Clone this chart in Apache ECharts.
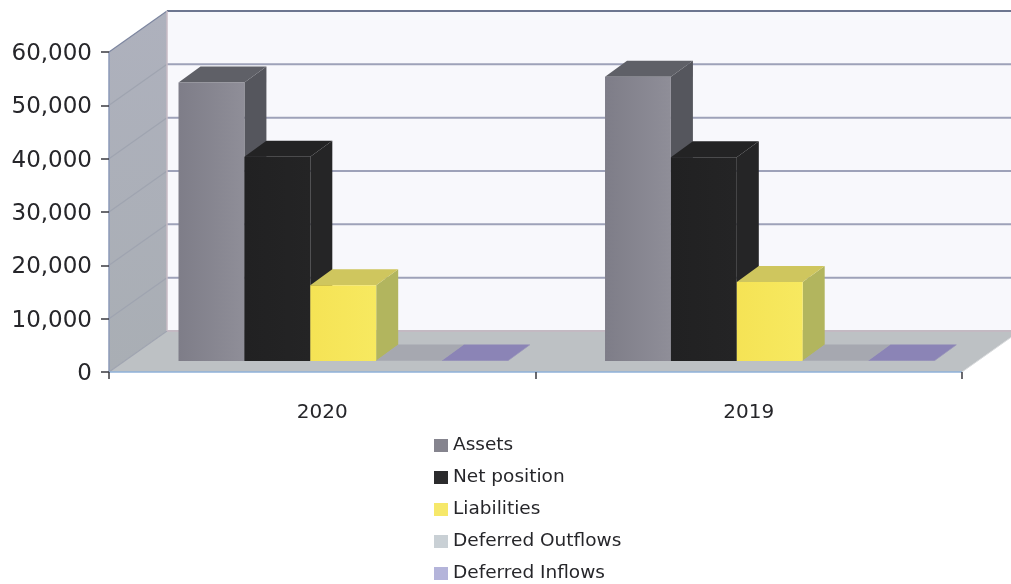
<!DOCTYPE html>
<html><head><meta charset="utf-8">
<style>html,body{margin:0;padding:0;background:#fff}#c{width:1011px;height:584px}</style>
<script src="https://cdn.jsdelivr.net/npm/echarts@6/dist/echarts.min.js"></script>
</head><body><div id="c"></div>
<script>
const categories = ['2020', '2019'];
const yTicks = [0, 10000, 20000, 30000, 40000, 50000, 60000];
const assets = [52200, 53300];
const netPosition = [38300, 38200];
const liabilities = [14200, 14800];
const deferredOutflows = [100, 100];
const deferredInflows = [100, 100];

const seriesNames = ['Assets', 'Net position', 'Liabilities', 'Deferred Outflows', 'Deferred Inflows'];
const seriesValues = [assets, netPosition, liabilities, deferredOutflows, deferredInflows];
const legendColors = ['#85848e', '#2b2b2d', '#f6e86a', '#c9d0d5', '#b4b4da'];
const faceColors = [
  {front: ['#7e7d88', '#8f8e98'], top: '#5f6067', side: '#55565d'},
  {front: ['#212122', '#242425'], top: '#232324', side: '#252526'},
  {front: ['#f5e355', '#f7e960'], top: '#cfc65e', side: '#b2b55e'},
  {front: ['#a6a8b0', '#a6a8b0'], top: '#a6a8b0', side: '#a6a8b0'},
  {front: ['#8b84b6', '#8b84b6'], top: '#8b84b6', side: '#8b84b6'}
];
const WALL_DX = 58, WALL_DY = -41;
const BAR_DX = 22, BAR_DY = -16, BAR_LIFT = 11, BAR_START = 0.163, BAR_FRAC = 0.1545;

function poly(points, fill, z2) {
  return {type: 'polygon', shape: {points}, style: {fill, stroke: null}, z2: z2 || 0, silent: true};
}
function seg(x1, y1, x2, y2, stroke, w, z2) {
  return {type: 'line', shape: {x1, y1, x2, y2}, style: {stroke, lineWidth: w}, z2: z2 || 1, silent: true};
}
function renderScene(params, api) {
  const g = params.coordSys;
  const L = g.x, R = g.x + g.width, T = g.y, B = g.y + g.height;
  const ch = [];
  ch.push(poly([[L + WALL_DX, T + WALL_DY], [R + WALL_DX, T + WALL_DY], [R + WALL_DX, B + WALL_DY], [L + WALL_DX, B + WALL_DY]], '#f8f8fc'));
  ch.push(poly([[L, T], [L + WALL_DX, T + WALL_DY], [L + WALL_DX, B + WALL_DY], [L, B]],
    new echarts.graphic.LinearGradient(0, 0, 0, 1, [{offset: 0, color: '#aeb1bd'}, {offset: 1, color: '#a9aeb4'}])));
  ch.push(poly([[L, B], [L + WALL_DX, B + WALL_DY], [R + WALL_DX, B + WALL_DY], [R, B]], '#bdc1c4'));
  yTicks.forEach(function (t) {
    const y = api.coord([0, t])[1];
    if (t > 0) {
      ch.push(seg(L + WALL_DX, y + WALL_DY, R + WALL_DX, y + WALL_DY, t === 60000 ? '#6d7690' : '#9ea2b9', 2));
    } else {
      ch.push(seg(L + WALL_DX, y + WALL_DY, R + WALL_DX, y + WALL_DY, '#c3b9c2', 2));
    }
    ch.push(seg(L, y, L + WALL_DX, y + WALL_DY, t === 60000 ? '#7d86a0' : '#9fa4b0', 1.2));
  });
  ch.push(seg(L + WALL_DX, T + WALL_DY, L + WALL_DX, B + WALL_DY, '#c8bcc6', 1.5));
  ch.push(seg(L, T, L, B, '#8d9ab8', 1.5));
  ch.push(seg(L, B, R, B, '#8fb0d8', 1.5));
  ch.push(seg(R, B, R + WALL_DX, B + WALL_DY, '#d8dadc', 1));
  return {type: 'group', children: ch};
}
function makeRender(idx) {
  return function (params, api) {
    const catIdx = api.value(0), val = api.value(1);
    const band = api.size([1, 0])[0];
    const center = api.coord([catIdx, 0]);
    const top = api.coord([catIdx, val]);
    const x0 = center[0] - band / 2 + band * (BAR_START + BAR_FRAC * idx);
    const x1 = x0 + band * BAR_FRAC;
    const yb = center[1] - BAR_LIFT, yt = top[1] - BAR_LIFT;
    const c = faceColors[idx];
    return {type: 'group', children: [
      poly([[x1, yb], [x1 + BAR_DX, yb + BAR_DY], [x1 + BAR_DX, yt + BAR_DY], [x1, yt]], c.side),
      poly([[x0, yt], [x0 + BAR_DX, yt + BAR_DY], [x1 + BAR_DX, yt + BAR_DY], [x1, yt]], c.top),
      poly([[x0, yb], [x1, yb], [x1, yt], [x0, yt]],
        new echarts.graphic.LinearGradient(0, 0, 1, 0, [{offset: 0, color: c.front[0]}, {offset: 1, color: c.front[1]}]))
    ]};
  };
}
const series = [{
  type: 'custom', name: 'scene', coordinateSystem: 'cartesian2d', clip: false, z: 1,
  renderItem: renderScene, data: [[0, 0]], silent: true
}];
seriesNames.forEach(function (name, i) {
  series.push({
    type: 'custom', name, coordinateSystem: 'cartesian2d', clip: false, z: 2 + i,
    itemStyle: {color: legendColors[i]},
    renderItem: makeRender(i), encode: {x: 0, y: 1},
    data: seriesValues[i].map(function (v, k) { return [k, v]; })
  });
});
const chart = echarts.init(document.getElementById('c'), null, {renderer: 'canvas'});
chart.setOption({
  animation: false,
  backgroundColor: '#fff',
  textStyle: {fontFamily: 'DejaVu Sans'},
  grid: {left: 109, right: 49, top: 52, height: 320, containLabel: false},
  xAxis: {
    type: 'category', data: categories,
    axisLine: {show: false},
    axisTick: {show: true, alignWithLabel: false, length: 7, lineStyle: {color: '#3a3a40', width: 1.5}},
    axisLabel: {color: '#26262a', fontSize: 20, fontFamily: 'DejaVu Sans', margin: 31},
    splitLine: {show: false}, z: 20
  },
  yAxis: {
    type: 'value', min: 0, max: 60000, interval: 10000,
    axisLine: {show: false},
    axisTick: {show: true, length: 8, lineStyle: {color: '#3a3a40', width: 1.5}},
    axisLabel: {color: '#26262a', fontSize: 23, fontFamily: 'DejaVu Sans', margin: 17,
      formatter: function (v) { return '{a|' + v.toLocaleString('en-US') + '}'; },
      rich: {a: {color: '#26262a', fontSize: 23, fontFamily: 'DejaVu Sans', padding: [4, 0, 0, 0]}}},
    splitLine: {show: false}, z: 20
  },
  legend: {
    orient: 'vertical', left: 434, top: 436, height: 148, padding: 0, itemWidth: 14, itemHeight: 13, itemGap: 13,
    icon: 'rect', selectedMode: false,
    data: seriesNames,
    textStyle: {color: '#26262a', fontSize: 18.5, fontFamily: 'DejaVu Sans'}
  },
  series
});
</script></body></html>
